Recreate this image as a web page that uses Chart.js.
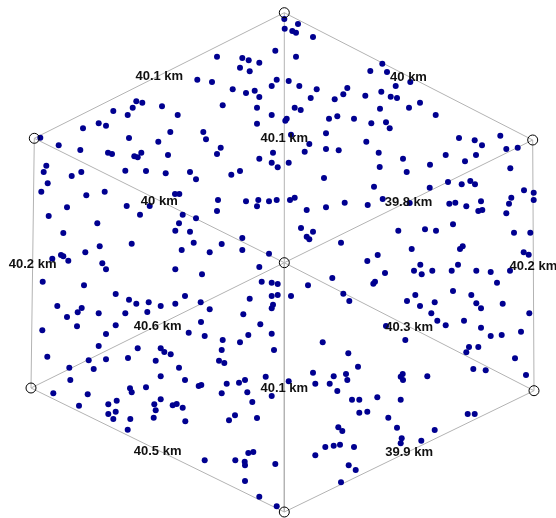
<!DOCTYPE html>
<html>
<head>
<meta charset="utf-8">
<script src="https://cdn.jsdelivr.net/npm/chart.js@4.4.0/dist/chart.umd.min.js"></script>
<style>
  html, body { margin: 0; padding: 0; background: #fff; }
  canvas { display: block; }
</style>
</head>
<body>
<canvas id="hexChart" width="556" height="518"></canvas>
<script>
// Hexagon corners: top, top-right, bottom-right, bottom, bottom-left, top-left
var cornerX = [284.3, 532.7, 534.0, 284.3, 31.0, 34.3];
var cornerY = [12.7, 140.0, 390.7, 512.0, 388.0, 138.3];
var centerX = 284.3;
var centerY = 262.7;

// distance on each outer edge (corner i -> corner i+1)
var edgeLabels = ["40 km", "40.2 km", "39.9 km", "40.5 km", "40.2 km", "40.1 km"];
// distance on each spoke (center -> corner i)
var spokeLabels = ["40.1 km", "39.8 km", "40.3 km", "40.1 km", "40.6 km", "40 km"];

// sample points
var pointX = [
  136.3,142.3,132.7,113.3,162,127.7,177.7,98.7,106,83,129,170.3,158.3,40.3,58.7,80.3,108,112,134.3,137.7,141.3,168,46.3,43.7,81.3,125.3,146,165.7,
  284.3,298,284.7,292.3,296,313,275.3,296,217,242.3,248.7,259.3,240,249.7,197.3,212,276.7,288.7,271.7,299.3,232.7,254.7,246,259.3,316.7,347.3,343.3,334.7,310.7,365.3,222.7,257,294.7,300.7,271.7,286.7,285.3,329,337.3,354,257,203.3,206,291,326,309.3,220.7,217,273,304.7,326,338.7,366.3,259.3,271.7,277.7,288.7,190,231.3,240,
  382.3,370.3,387,410.3,395.7,381.3,390.7,397,380,409,420,435.7,371.3,386,389.7,459,474.7,482,500.3,506.3,517.7,378.7,403,445.7,476,465,430,379.7,406.7,510.3,
  71.7,47.7,41.3,86.3,104.7,175,179.3,67,126.7,149.7,48.7,140,182.7,97.3,179,175.3,63.3,131.7,99.7,85.3,181.7,61,63.3,52.3,68.3,102.3,106,175.3,42.7,84,115.7,129,136.3,148.7,57.3,81.7,77.7,98.7,125.3,147.3,160.7,175.3,67,77,115.7,42.3,106,
  196,324,218,246,258.3,257,269,276.7,290,294.7,217,306.7,326,344.7,367.7,196,190,301,313,306.7,309.3,242.3,193.7,221.7,341,209.7,242.3,269,367.3,259.3,202,332.3,261.7,271.7,277.7,308,185,200.7,209.7,249.7,271.7,277.7,291,343.3,349.3,273,271.7,243.3,260.3,201,188.7,204.7,248.3,271.7,222.7,240,322.7,
  374,429.7,448,461.7,470.3,475,524,533.7,533.7,511.3,509,506.3,481,449.3,455.3,466.3,478.3,482.3,382.7,409.7,453,398.3,425,436,514,530.3,411.7,460,462.7,523.7,528.7,377.7,420.3,414,421.7,432.3,451.7,458,476.3,490.7,510,497,385,373.3,375,453,415.3,471.3,407,420,434.7,476.3,481,502.7,431.3,437.3,445.7,464,529.3,481,521,490.7,501.7,405.3,386,
  98.7,137.7,160.7,164.3,170.7,47.3,88.7,106,128,155.7,69.3,93.7,179,70.3,160.7,130,131.7,146,53.3,87.7,160.7,108.3,116.7,154.3,172.7,176.7,182.7,79,115.7,108.3,113.3,130.3,155.7,153.7,127.7,
  221.7,274,348.3,219,224.3,358,313,333.7,346,265.7,185,347.3,198.7,201.3,221.7,226.7,239,245,247.3,252.3,271.7,288.7,315.3,329.7,337.3,352,359.3,359.3,367.3,185.3,229,235,257,338.3,342.3,325.3,333.7,340,354,315.3,204.7,235.3,244.7,245,248.3,253.3,275.3,348.7,355.7,245,341,259.3,276.7,
  469,478.3,466.3,515,473.3,485.7,526,402.7,400.7,403,427.3,377.3,400.7,388.3,397,467.7,474.7,434.7,401.7,400.7,421.3
];
var pointY = [
  101.3,102.7,107.7,111,106.3,115,115,123.3,125.7,128.3,138,132,141.7,137.7,145.3,150,152.7,154,156.3,157.3,152.7,155,165.7,172,172,170.7,171,173.3,
  19,24,28.7,31,32.7,37,50.7,56.7,56.7,58,60.3,62.7,67.7,71.3,79.7,82,79.7,81,86,86,89.3,90.7,93,97,89.3,88,94.3,99.3,98,95.7,105.3,107.7,107.7,110,115,118.7,120.7,118.7,116.3,118.7,123.7,132,139.3,134.7,133.3,144,147.7,154,152.7,151.7,149,150.3,141.7,158.7,162.7,167.3,162.7,172,174.7,171,
  63.7,71,72,82,86,91.7,96.7,98,108.7,107.7,102.7,115,123.3,122.3,128.3,138,140.3,145.3,135.7,149,147.7,152.7,158.7,155,155,161.3,164.7,167,172,168.3,
  176,183.3,191.7,195.3,191.7,194,194,207.3,206,206,216,214.7,214.7,223.3,223.3,230.7,233,243.7,246.3,252.3,250,255,256.3,258.7,260.7,263.3,269.3,269.3,281.7,285.3,294,299.7,303.7,302.3,306,308,312.3,313.3,313.3,312,306,303.7,317,326.3,325.3,330.3,334,
  179.3,178,200,201.3,200,206.3,201.3,200,200,197.7,211,210,207.3,202.7,205,218.3,231.7,228,231.7,236.7,239.3,238,242.7,244,242.7,252.3,250,253.7,261,267,274.3,278,281.7,282.7,284,285.3,296,302.3,309.3,298.7,296,295,296,293.7,301,304.7,308.3,314.3,324.3,322,332.7,336,335,333.7,340,342.3,342.3,
  186.7,187.7,182,184.3,181,184.3,190.3,192.7,200,197.7,203.7,213.3,201.3,203.7,202.7,206.3,211,210,199,203,224.3,230.7,229.3,230.7,232.7,232.7,249,249,246.3,252.3,254.7,255,264.7,270.7,274.3,270.7,270.7,264.7,270.7,272,270.7,282.7,273,283.7,281.7,291,295,295,301,306,302.3,303.3,308.3,303.7,313.3,320.7,325.3,320.7,313.3,327.7,331.7,336,335,340,326,
  346,348.3,348.3,352,354.3,356.7,360.3,359.3,358,360.7,367.7,369,367.7,380,376.3,388.3,392.3,387.3,393.3,394.3,399.3,404.3,400.7,404.3,405.3,404,407.7,405.7,411.7,414,419,419,410.3,417.7,429.7,
  350,350,353.3,360.7,363,366.7,372.7,376.3,374,376.7,380,380,386,385,393.3,383.7,382.7,380,392.3,402,396,381.3,383.7,383.7,391,399.7,399.7,412.7,411.7,421.3,420.3,415.3,418,427.3,431,447,445.7,444.7,447,455.3,460.3,460.3,461.7,465.3,453,452,464,465.3,470,481,482.3,496.7,506.3,
  347,347,352.3,358.3,369,370.3,375,374,376.7,380,376.3,397.3,399.7,417.7,427.7,414,414,430,438.3,443.3,440.7
];

(function () {
    "use strict";

    var lineGrey = "#b3b3b3";
    var dotBlue = "#000090";

    var samples = [];
    for (var i = 0; i < pointX.length; i++) {
        samples.push({ x: pointX[i], y: pointY[i] });
    }

    var corners = [];
    for (var c = 0; c < cornerX.length; c++) {
        corners.push({ x: cornerX[c], y: cornerY[c] });
    }

    var datasets = [];

    // outer hexagon
    datasets.push({
        data: corners.concat([corners[0]]),
        showLine: true,
        borderColor: lineGrey,
        borderWidth: 1,
        pointRadius: 0,
        order: 5
    });

    // spokes
    corners.forEach(function (p) {
        datasets.push({
            data: [{ x: centerX, y: centerY }, p],
            showLine: true,
            borderColor: lineGrey,
            borderWidth: 1,
            pointRadius: 0,
            order: 5
        });
    });

    // sample dots
    datasets.push({
        data: samples,
        backgroundColor: dotBlue,
        borderWidth: 0,
        pointRadius: 3,
        order: 2
    });

    // corner + center rings
    datasets.push({
        data: corners.concat([{ x: centerX, y: centerY }]),
        backgroundColor: "rgba(0,0,0,0)",
        borderColor: "#000",
        borderWidth: 1,
        pointRadius: 5,
        order: 1
    });

    // distance labels, drawn on top
    var distanceLabels = {
        id: "distanceLabels",
        afterDatasetsDraw: function (chart) {
            var ctx = chart.ctx;
            var sx = chart.scales.x;
            var sy = chart.scales.y;
            ctx.save();
            ctx.font = 'bold 13px "Liberation Sans", Arial, sans-serif';
            ctx.fillStyle = "#111";
            ctx.textAlign = "center";
            ctx.textBaseline = "middle";
            for (var k = 0; k < cornerX.length; k++) {
                var n = (k + 1) % cornerX.length;
                var ex = (cornerX[k] + cornerX[n]) / 2;
                var ey = (cornerY[k] + cornerY[n]) / 2;
                ctx.fillText(edgeLabels[k], sx.getPixelForValue(ex), sy.getPixelForValue(ey) + 1);
                var mx = (centerX + cornerX[k]) / 2;
                var my = (centerY + cornerY[k]) / 2;
                ctx.fillText(spokeLabels[k], sx.getPixelForValue(mx), sy.getPixelForValue(my) + 1);
            }
            ctx.restore();
        }
    };

    new Chart(document.getElementById("hexChart").getContext("2d"), {
        type: "scatter",
        data: { datasets: datasets },
        options: {
            responsive: false,
            animation: false,
            devicePixelRatio: 1,
            layout: { padding: 0, autoPadding: false },
            plugins: {
                legend: { display: false },
                tooltip: { enabled: false }
            },
            scales: {
                x: { type: "linear", min: 0, max: 556, display: false },
                y: { type: "linear", min: 0, max: 518, reverse: true, display: false }
            }
        },
        plugins: [distanceLabels]
    });
})();
</script>
</body>
</html>
